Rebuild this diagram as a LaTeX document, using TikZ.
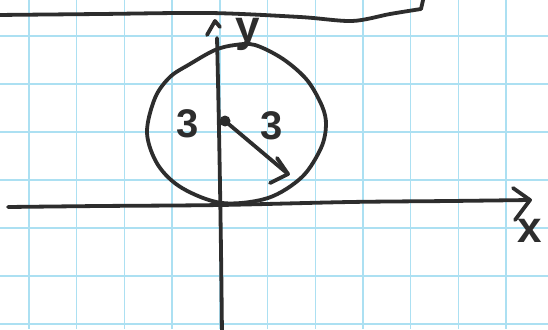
\documentclass[tikz,border=0pt]{standalone}
\usepackage{fontspec}
\setmainfont{Liberation Sans}
\definecolor{inkc}{RGB}{45,45,45}
\definecolor{gridc}{RGB}{172,224,242}
\begin{document}
\begin{tikzpicture}[x=1pt,y=-1pt,
  ink/.style={draw=inkc, line width=3.8pt, line cap=round, line join=round},
  gridl/.style={draw=gridc, line width=1.4pt},
  lab/.style={text=inkc, inner sep=0pt, font=\fontsize{40}{40}\selectfont\bfseries},
  axlab/.style={text=inkc, inner sep=0pt, font=\fontsize{44}{44}\selectfont\bfseries}]
\useasboundingbox (0,0) rectangle (548,329);
\fill[white] (0,0) rectangle (548,329);
% graph paper
\foreach \i in {0,...,10} \draw[gridl] ({29+47.7*\i},0) -- ({29+47.7*\i},329);
\foreach \j in {0,...,6} \draw[gridl] (0,{36+48*\j}) -- (548,{36+48*\j});
% top line
\draw[ink] plot[smooth, tension=0.5] coordinates {(-3,15) (100,14) (210,13) (300,17) (352,21) (390,14) (421,9)} -- (424,-4);
% y axis
\coordinate (ytop) at (217,38);
\coordinate (ybot) at (222,336);
\draw[ink] (ytop) .. controls (219,120) and (221,230) .. (ybot);
\coordinate (ytip) at (215,21);
\draw[ink] (207,35) -- (ytip) -- (220,27);
\node[axlab] (ylab) at (248,34) {y};
% x axis
\coordinate (xleft) at (8,207);
\coordinate (xtip) at (530,200);
\draw[ink] plot[smooth, tension=0.5] coordinates {(xleft) (100,206) (220,205) (350,202) (450,201) (xtip)};
\draw[ink] (513,188) -- (xtip) -- (515,220);
\node[axlab] (xlab) at (530,231) {x};
% circle
\draw[ink] plot[smooth cycle, tension=0.55] coordinates {(190,64) (215,50) (235,45) (255,45) (283,59) (307,80) (322,106) (326,125) (321,148) (302,177) (268,198) (222,203) (182,188) (158,165) (147,133) (155,98) (170,77)};
% centre and radius
\coordinate (O) at (225,121);
\coordinate (R) at (288,174);
\fill[inkc] (O) circle (5.5);
\draw[ink] (O) -- (R);
\draw[ink] (277,158) -- (R) -- (270,183);
\node[lab] (tl) at (188,124) {3};
\node[lab] (tr) at (272,126) {3};
\end{tikzpicture}
\end{document}
